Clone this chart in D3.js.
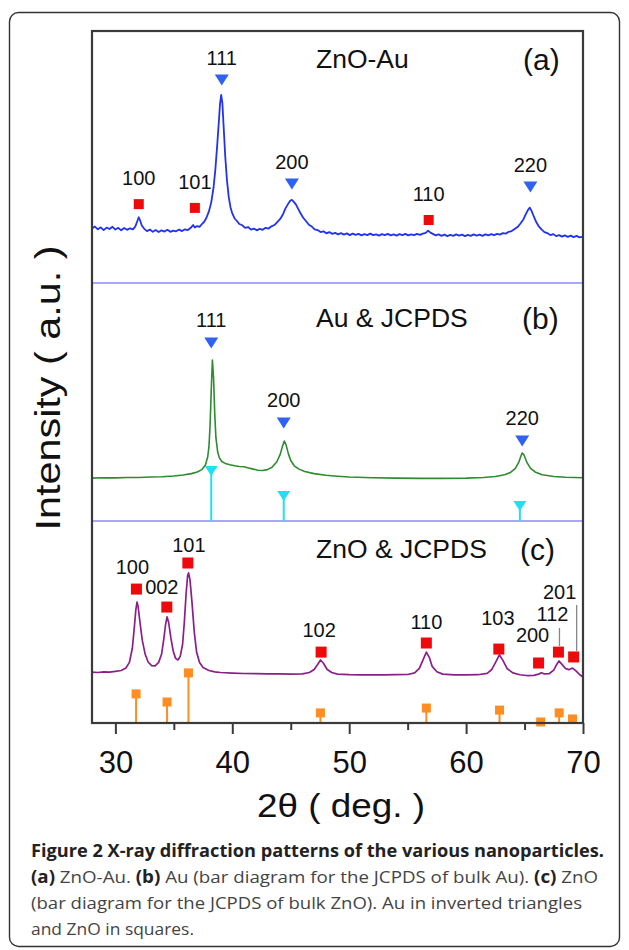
<!DOCTYPE html>
<html><head><meta charset="utf-8">
<script src="https://cdn.jsdelivr.net/npm/d3@7"></script>
<style>html,body{margin:0;padding:0;background:#fff}svg{display:block}</style>
</head><body>
<script>
// ---------- DATA ----------
// (a) ZnO-Au pattern: [2theta (deg), intensity (a.u., panel units)]
const patternZnOAu = [[28.00,21.6],[28.25,22.4],[28.50,21.3],[28.75,22.1],[29.00,21.0],[29.25,22.0],[29.50,21.4],[29.75,22.3],[30.00,21.2],[30.25,21.9],[30.50,20.9],[30.75,21.8],[31.00,21.1],[31.25,21.7],[31.50,21.3],[31.70,22.4],[31.85,24.2],[32.00,26.1],[32.10,25.0],[32.25,22.9],[32.45,21.6],[32.70,20.6],[32.95,21.2],[33.20,20.3],[33.45,21.0],[33.70,20.2],[33.95,20.9],[34.20,20.4],[34.45,21.1],[34.70,20.3],[34.95,20.8],[35.20,20.5],[35.45,21.2],[35.70,20.6],[35.95,21.3],[36.20,21.0],[36.45,21.9],[36.65,23.0],[36.80,22.0],[37.00,22.6],[37.20,22.3],[37.40,23.4],[37.60,24.3],[37.80,26.0],[38.00,28.4],[38.20,32.0],[38.40,38.0],[38.55,45.0],[38.70,54.0],[38.85,64.0],[38.95,71.0],[39.05,74.6],[39.15,71.5],[39.25,63.0],[39.40,50.0],[39.55,40.5],[39.70,34.0],[39.85,30.0],[40.00,27.6],[40.20,25.6],[40.40,24.6],[40.60,23.4],[40.85,22.9],[41.10,21.9],[41.35,22.2],[41.60,21.2],[41.85,21.6],[42.10,20.9],[42.35,21.5],[42.60,21.1],[42.85,21.9],[43.10,21.6],[43.35,22.5],[43.60,23.0],[43.85,24.2],[44.10,25.4],[44.35,27.4],[44.55,29.6],[44.75,31.2],[44.95,32.6],[45.10,33.0],[45.25,32.3],[45.45,31.1],[45.65,29.3],[45.85,27.6],[46.05,26.0],[46.30,24.6],[46.55,23.1],[46.80,22.4],[47.05,21.3],[47.30,21.0],[47.55,20.2],[47.80,20.5],[48.05,19.7],[48.30,20.2],[48.55,19.5],[48.80,19.9],[49.05,19.3],[49.30,19.8],[49.55,19.2],[49.80,19.7],[50.05,19.0],[50.30,19.6],[50.55,19.1],[50.80,19.5],[51.05,18.9],[51.30,19.4],[51.55,19.0],[51.80,19.6],[52.05,19.0],[52.30,19.3],[52.55,18.8],[52.80,19.4],[53.05,19.0],[53.30,19.5],[53.55,18.9],[53.80,19.3],[54.05,18.8],[54.30,19.4],[54.55,19.0],[54.80,19.5],[55.05,18.9],[55.30,19.3],[55.55,19.0],[55.80,19.5],[56.05,19.1],[56.30,19.6],[56.55,19.9],[56.75,20.8],[56.95,20.0],[57.15,19.5],[57.40,18.9],[57.65,19.3],[57.90,18.7],[58.15,19.2],[58.40,18.6],[58.65,19.1],[58.90,18.7],[59.15,19.3],[59.40,18.8],[59.65,19.2],[59.90,18.6],[60.15,19.1],[60.40,18.7],[60.65,19.3],[60.90,18.8],[61.15,19.2],[61.40,18.7],[61.65,19.3],[61.90,18.9],[62.15,19.4],[62.40,19.0],[62.65,19.5],[62.90,19.2],[63.15,19.8],[63.40,19.6],[63.65,20.3],[63.90,20.6],[64.15,21.4],[64.40,22.2],[64.65,23.6],[64.90,25.2],[65.10,27.2],[65.30,29.0],[65.45,29.9],[65.60,28.6],[65.80,26.3],[66.00,24.2],[66.20,22.6],[66.45,21.3],[66.70,20.2],[66.95,19.8],[67.20,19.0],[67.45,19.4],[67.70,18.6],[67.95,19.0],[68.20,18.4],[68.45,18.9],[68.70,18.3],[68.95,18.8],[69.20,18.2],[69.45,18.7],[69.70,18.1],[70.00,18.4]];

// (b) Au pattern
const patternAu = [[28.0,18.0],[29.0,18.2],[30.0,18.1],[31.0,18.3],[32.0,18.3],[33.0,18.5],[34.0,18.6],[35.0,18.9],[35.8,19.3],[36.5,19.9],[37.0,20.6],[37.4,21.6],[37.7,23.5],[37.9,27.0],[38.0,31.0],[38.1,40.0],[38.2,55.0],[38.3,67.6],[38.4,60.0],[38.5,45.0],[38.6,35.0],[38.75,29.0],[38.9,26.5],[39.1,25.0],[39.4,24.2],[39.8,23.6],[40.2,23.2],[40.6,22.9],[41.0,22.8],[41.4,22.3],[41.8,21.8],[42.2,21.3],[42.6,21.2],[43.0,21.6],[43.4,22.6],[43.8,24.8],[44.1,28.0],[44.3,31.5],[44.45,33.6],[44.6,32.0],[44.8,28.2],[45.0,25.4],[45.3,23.2],[45.7,21.8],[46.2,20.8],[47.0,19.9],[48.0,19.2],[49.0,18.8],[50.0,18.5],[52.0,18.2],[54.0,18.0],[56.0,17.9],[58.0,17.9],[60.0,18.0],[61.5,18.3],[62.5,18.7],[63.3,19.4],[63.8,20.4],[64.2,22.0],[64.5,24.6],[64.7,27.4],[64.8,28.6],[64.95,27.8],[65.2,24.6],[65.5,22.2],[65.9,20.6],[66.5,19.4],[67.5,18.7],[68.5,18.4],[70.0,18.2]];

// (c) ZnO pattern
const patternZnO = [[28.0,25.2],[28.5,25.0],[29.0,25.3],[29.5,25.2],[30.0,25.6],[30.5,26.0],[30.9,27.2],[31.2,30.0],[31.45,37.0],[31.6,46.0],[31.75,56.0],[31.85,59.9],[31.95,57.5],[32.1,50.0],[32.3,41.0],[32.55,34.0],[32.8,30.2],[33.1,28.4],[33.4,28.3],[33.7,30.0],[33.95,34.0],[34.15,42.0],[34.3,49.0],[34.42,52.5],[34.55,50.0],[34.75,42.0],[34.95,35.5],[35.15,32.0],[35.35,31.2],[35.55,33.0],[35.75,39.0],[35.9,50.0],[36.05,64.0],[36.18,73.0],[36.26,74.3],[36.38,71.0],[36.55,60.0],[36.75,45.0],[36.95,35.0],[37.2,30.0],[37.5,27.5],[38.0,26.0],[38.5,25.3],[39.0,25.0],[40.0,24.7],[41.0,24.5],[42.0,24.4],[43.0,24.3],[44.0,24.3],[45.0,24.2],[46.0,24.3],[46.6,25.0],[47.0,26.5],[47.3,29.0],[47.55,31.2],[47.8,29.6],[48.1,26.6],[48.5,25.0],[49.0,24.2],[50.0,23.9],[51.0,23.8],[52.0,23.8],[53.0,23.8],[54.0,23.9],[55.0,24.0],[55.6,24.8],[56.0,27.0],[56.3,31.0],[56.6,35.1],[56.85,32.5],[57.1,28.0],[57.5,25.4],[58.0,24.2],[59.0,23.8],[60.0,23.8],[61.0,23.9],[61.8,24.6],[62.2,26.5],[62.5,29.8],[62.85,33.7],[63.15,31.0],[63.5,27.0],[64.0,24.8],[64.6,23.9],[65.2,23.5],[65.8,23.6],[66.2,24.2],[66.45,24.9],[66.7,24.3],[67.1,24.4],[67.5,26.2],[67.75,29.0],[67.95,30.7],[68.2,29.0],[68.5,27.0],[68.8,26.4],[69.1,27.2],[69.4,25.8],[69.7,24.0],[70.0,22.8]];

// JCPDS reference bars
const jcpdsAuPos = [38.2, 44.4, 64.6];
const jcpdsAuInt = [21.0, 10.5, 6.3];
const jcpdsZnOPos = [31.77, 34.42, 36.25, 47.54, 56.60, 62.86, 66.38, 67.96, 69.10];
const jcpdsZnOInt = [14.4, 10.4, 24.8, 5.0, 7.4, 6.4, 0.5, 5.0, 2.0];

// Peak markers (hkl, 2theta, marker intensity)
const markA_hkl = ["100","101","110","111","200","220"];
const markA_pos = [32.0, 36.8, 56.8, 39.1, 45.1, 65.5];
const markA_int = [31.3, 29.8, 25.0, 80.6, 39.3, 38.1];
const markA_phase = ["ZnO","ZnO","ZnO","Au","Au","Au"];

const markB_hkl = ["111","200","220"];
const markB_pos = [38.2, 44.4, 64.8];
const markB_int = [74.8, 41.2, 33.6];

const markC_hkl = ["100","002","101","102","110","103","200","112","201"];
const markC_pos = [31.8, 34.4, 36.2, 47.6, 56.6, 62.8, 66.2, 67.9, 69.2];
const markC_int = [66.3, 57.4, 79.2, 35.1, 39.6, 36.6, 29.7, 35.1, 32.7];

const panelTitles = ["ZnO-Au", "Au & JCPDS", "ZnO & JCPDS"];
const panelTags = ["(a)", "(b)", "(c)"];
const xTicks = [30, 40, 50, 60, 70];
const xMinorTicks = [35, 45, 55, 65];
const xTitle = "2\u03b8 ( deg. )";
const yTitle = "Intensity ( a.u. )";

// ---------- LAYOUT ----------
const W = 629, H = 950;
const plotL = 92, plotR = 583, plotT = 31, plotB = 723;
const panelEdges = [[31, 283], [283, 521], [521, 723]];
const C = {
  blue: "#2233ee", green: "#2e8b30", purple: "#8a1f8a",
  sep: "#8a8aff", tri: "#2f62ee", cyan: "#22e0f0", red: "#ee0a0a",
  orange: "#ff8d22", frame: "#3a3a3a", text: "#111"
};
const labelFont = "'Liberation Sans', Arial, sans-serif";

const svg = d3.select("body").append("svg").attr("width", W).attr("height", H);

// outer rounded border
svg.append("rect").attr("x", 9.5).attr("y", 12.5).attr("width", 610).attr("height", 934)
  .attr("rx", 9).attr("fill", "none").attr("stroke", "#333").attr("stroke-width", 1.4);

const x = d3.scaleLinear().domain([28, 70]).range([plotL, plotR]);
const ys = panelEdges.map(([t, b]) => d3.scaleLinear().domain([0, 100]).range([b, t]));

const plot = svg.append("g");

// separators
[283, 521].forEach(yy => plot.append("line").attr("x1", plotL).attr("x2", plotR)
  .attr("y1", yy).attr("y2", yy).attr("stroke", C.sep).attr("stroke-width", 1.6));

// curves
const patterns = [[patternZnOAu, C.blue, 1.8], [patternAu, C.green, 1.6], [patternZnO, C.purple, 1.7]];
patterns.forEach(([data, col, sw], i) => {
  const line = d3.line().x(d => x(d[0])).y(d => ys[i](d[1]));
  plot.append("path").datum(data).attr("d", line).attr("fill", "none")
    .attr("stroke", col).attr("stroke-width", sw).attr("stroke-linejoin", "round");
});

// triangle helper (inverted)
const triPath = (cx, cy, w, h) => `M${cx - w / 2},${cy - h / 2}L${cx + w / 2},${cy - h / 2}L${cx},${cy + h / 2}Z`;

// JCPDS Au sticks (panel b)
jcpdsAuPos.forEach((p, i) => {
  const y0 = ys[1](0), y1 = ys[1](jcpdsAuInt[i]);
  plot.append("line").attr("x1", x(p)).attr("x2", x(p)).attr("y1", y0).attr("y2", y1)
    .attr("stroke", C.cyan).attr("stroke-width", 2);
  plot.append("path").attr("d", triPath(x(p), y1, 13, 10)).attr("fill", C.cyan);
});

// JCPDS ZnO sticks (panel c)
jcpdsZnOPos.forEach((p, i) => {
  const y0 = ys[2](0), y1 = ys[2](jcpdsZnOInt[i]);
  plot.append("line").attr("x1", x(p)).attr("x2", x(p)).attr("y1", y0).attr("y2", y1)
    .attr("stroke", C.orange).attr("stroke-width", 2);
  plot.append("rect").attr("x", x(p) - 4.5).attr("y", y1 - 4.5).attr("width", 9).attr("height", 9)
    .attr("fill", C.orange);
});

function label(txt, cx, cy) {
  plot.append("text").attr("x", cx).attr("y", cy).attr("text-anchor", "middle")
    .attr("font-family", labelFont).attr("font-size", 20).attr("fill", C.text).text(txt);
}

// panel a markers
markA_hkl.forEach((h, i) => {
  const cx = x(markA_pos[i]), cy = ys[0](markA_int[i]);
  if (markA_phase[i] === "Au") {
    plot.append("path").attr("d", triPath(cx, cy, 14, 11)).attr("fill", C.tri);
    label(h, cx, cy - 15);
  } else {
    plot.append("rect").attr("x", cx - 5).attr("y", cy - 5).attr("width", 10).attr("height", 10).attr("fill", C.red);
    label(h, cx, cy - 19);
  }
});

// panel b markers
markB_hkl.forEach((h, i) => {
  const cx = x(markB_pos[i]), cy = ys[1](markB_int[i]);
  plot.append("path").attr("d", triPath(cx, cy, 14, 11)).attr("fill", C.tri);
  label(h, cx, cy - 16);
});

// panel c markers, label offsets (dx, dy) in px
const markC_labelOffset = [[-4, -15], [-5, -13], [1, -11], [-2, -15], [0, -14], [-1, -24], [-6, -21], [-6, -31], [-14, -58]];
markC_hkl.forEach((h, i) => {
  const cx = x(markC_pos[i]), cy = ys[2](markC_int[i]);
  plot.append("rect").attr("x", cx - 5.5).attr("y", cy - 5.5).attr("width", 11).attr("height", 11).attr("fill", C.red);
  const [dx, dy] = markC_labelOffset[i];
  label(h, cx + dx, cy + dy);
});
// leader lines for 112 and 201
[[7, 628], [8, 605]].forEach(([i, yTop]) => {
  const cx = x(markC_pos[i]) + (i === 8 ? 3 : 1), cy = ys[2](markC_int[i]);
  plot.append("line").attr("x1", cx).attr("x2", cx).attr("y1", yTop).attr("y2", cy - 6)
    .attr("stroke", "#888").attr("stroke-width", 1.3);
});

// panel titles and tags
const titleBase = [68, 327, 558];
const tagX = [523, 522, 520];
panelTitles.forEach((t, i) => {
  plot.append("text").attr("x", 316).attr("y", titleBase[i]).attr("font-family", labelFont)
    .attr("font-size", 26.5).attr("fill", C.text).text(t);
  plot.append("text").attr("x", tagX[i]).attr("y", titleBase[i] + 2).attr("font-family", labelFont)
    .attr("font-size", 30).attr("fill", C.text).text(panelTags[i]);
});

// frame
plot.append("rect").attr("x", plotL).attr("y", plotT).attr("width", plotR - plotL).attr("height", plotB - plotT)
  .attr("fill", "none").attr("stroke", C.frame).attr("stroke-width", 2.2);

// x axis
const ax = svg.append("g").attr("transform", `translate(0,${plotB})`)
  .call(d3.axisBottom(x).tickValues(xTicks).tickSize(11).tickPadding(17).tickFormat(d3.format("d")));
ax.select(".domain").remove();
ax.selectAll(".tick line").attr("stroke", C.frame).attr("stroke-width", 2);
ax.selectAll(".tick text").attr("font-family", labelFont).attr("font-size", 31).attr("fill", C.text);
const axm = svg.append("g").attr("transform", `translate(0,${plotB})`)
  .call(d3.axisBottom(x).tickValues(xMinorTicks).tickSize(7).tickFormat(""));
axm.select(".domain").remove();
axm.selectAll(".tick line").attr("stroke", C.frame).attr("stroke-width", 2);

// axis titles
svg.append("text").attr("x", 341).attr("y", 817).attr("text-anchor", "middle")
  .attr("font-family", labelFont).attr("font-size", 33).attr("fill", C.text)
  .attr("textLength", 168).attr("lengthAdjust", "spacingAndGlyphs").text(xTitle);
svg.append("text").attr("transform", "translate(60,388) rotate(-90)").attr("text-anchor", "middle")
  .attr("font-family", labelFont).attr("font-size", 35).attr("fill", C.text)
  .attr("textLength", 285).attr("lengthAdjust", "spacingAndGlyphs").text(yTitle);

// caption
const capFont = "'Open Sans', 'Noto Sans', sans-serif";
const cap = [
  { y: 857, len: 573, parts: [["Figure 2 X-ray diffraction patterns of the various nanoparticles.", true]] },
  { y: 883, len: 567, parts: [["(a)", true], [" ZnO-Au. ", false], ["(b)", true], [" Au (bar diagram for the JCPDS of bulk Au). ", false], ["(c)", true], [" ZnO", false]] },
  { y: 909, len: 551, parts: [["(bar diagram for the JCPDS of bulk ZnO). Au in inverted triangles", false]] },
  { y: 935, len: 163, parts: [["and ZnO in squares.", false]] }
];
cap.forEach(l => {
  const t = svg.append("text").attr("x", 31).attr("y", l.y).attr("font-family", capFont)
    .attr("font-size", 17).attr("fill", "#333").attr("textLength", l.len).attr("lengthAdjust", "spacingAndGlyphs");
  l.parts.forEach(([s, b]) => t.append("tspan").attr("font-weight", b ? 700 : 400)
    .attr("fill", b ? "#222" : "#444").text(s));
});
</script>
</body></html>
